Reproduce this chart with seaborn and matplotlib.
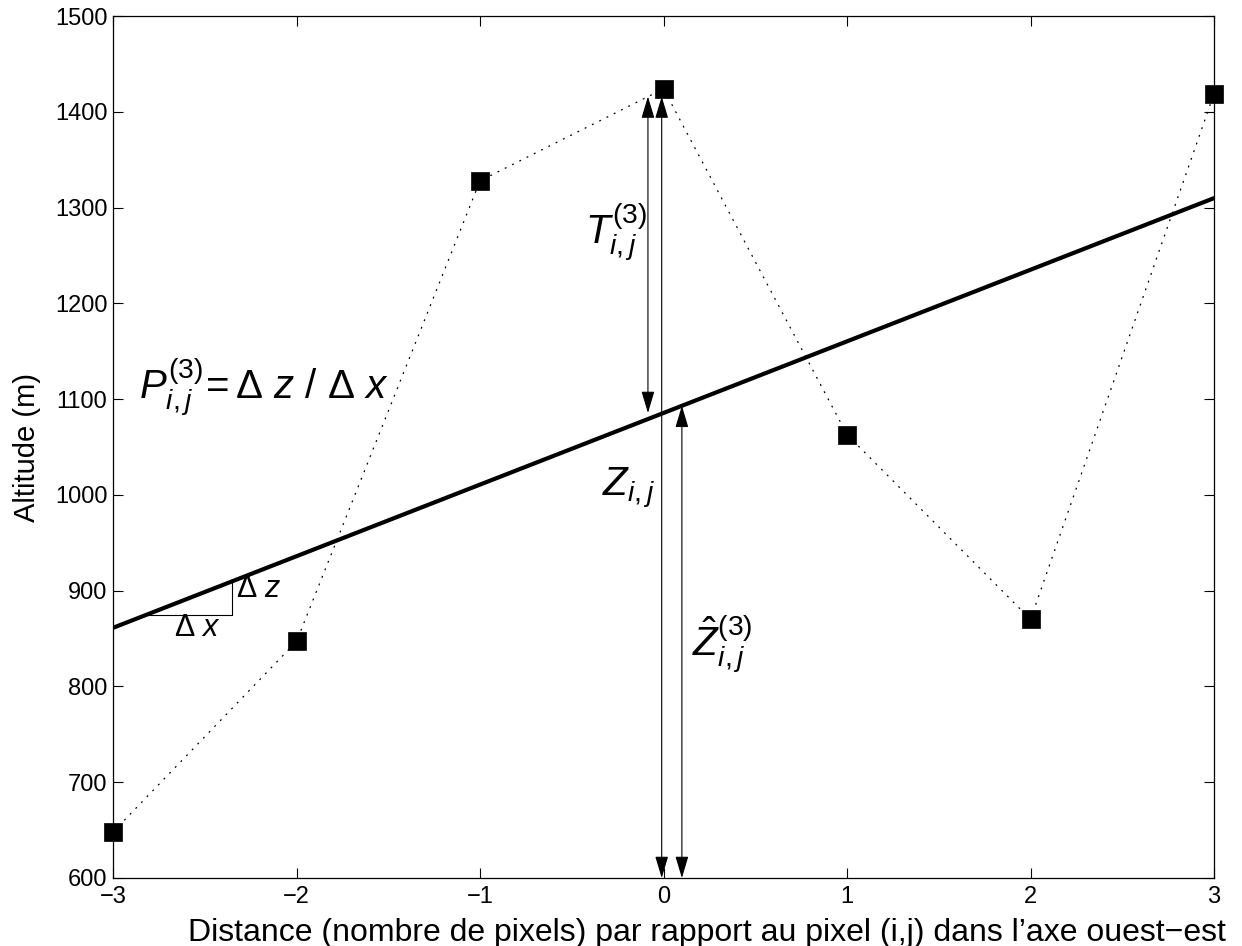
import numpy as np
import pandas as pd
import matplotlib
matplotlib.use("Agg")
import matplotlib.pyplot as plt
from matplotlib.patches import ArrowStyle
import seaborn as sns

# Altitude profile along the west-east axis around pixel (i,j)
distance = [-3, -2, -1, 0, 1, 2, 3]
altitude = [648, 847, 1328, 1424, 1063, 870, 1419]

x_ticks = [-3, -2, -1, 0, 1, 2, 3]
y_ticks = [600, 700, 800, 900, 1000, 1100, 1200, 1300, 1400, 1500]

profile = pd.DataFrame({"distance": distance, "altitude": altitude})

sns.set_style("ticks")
plt.rcParams["font.family"] = ["Liberation Sans", "DejaVu Sans"]
plt.rcParams["mathtext.fontset"] = "custom"
plt.rcParams["mathtext.rm"] = "Liberation Sans"
plt.rcParams["mathtext.it"] = "Liberation Sans:italic"
plt.rcParams["mathtext.bf"] = "Liberation Sans:bold"
plt.rcParams["axes.unicode_minus"] = True
for key in ["text.color", "axes.labelcolor", "xtick.color", "ytick.color",
            "xtick.labelcolor", "ytick.labelcolor"]:
    plt.rcParams[key] = "black"

fig = plt.figure(figsize=(12.42, 9.46), dpi=100)
ax = fig.add_axes([0.091, 0.0719, 0.8865, 0.9111])

# dotted profile and square markers
sns.lineplot(data=profile, x="distance", y="altitude", ax=ax, color="black",
             linewidth=0.9, linestyle=(0, (1.5, 5)), sort=False)
sns.scatterplot(data=profile, x="distance", y="altitude", ax=ax, marker="s",
                s=175, color="black", edgecolor="black", linewidth=0.5,
                clip_on=False, zorder=5)
# least-squares slope line
sns.regplot(data=profile, x="distance", y="altitude", ax=ax, scatter=False,
            ci=None, truncate=True, color="black", line_kws={"linewidth": 3})

slope, intercept = np.polyfit(distance, altitude, 1)
fit_at = lambda v: intercept + slope * v

ax.set_xlim(-3, 3)
ax.set_ylim(600, 1500)
ax.set_xticks(x_ticks)
ax.set_yticks(y_ticks)
ax.tick_params(direction="in", top=True, right=True, length=7, width=0.8,
               labelsize=17)
ax.tick_params(axis="x", pad=6)
ax.tick_params(axis="y", pad=4)
for sp in ax.spines.values():
    sp.set_linewidth(0.9)
    sp.set_color("black")

ax.set_xlabel("Distance (nombre de pixels) par rapport au pixel (i,j) dans l\u2019axe ouest\u2212est",
              fontsize=23)
ax.xaxis.set_label_coords(0.539, -0.046)
ax.set_ylabel("Altitude (m)", fontsize=21, labelpad=10)

# slope triangle
x_run_end = -2.35
y_base = 875
x_base_start = (y_base - intercept) / slope
ax.plot([x_base_start, x_run_end], [y_base, y_base], color="black", linewidth=0.8)
ax.plot([x_run_end, x_run_end], [y_base, fit_at(x_run_end)], color="black", linewidth=0.8)
ax.text(-2.33, 902, r"$\Delta\ z$", fontsize=22, va="center", ha="left")
ax.text(-2.67, 861, r"$\Delta\ x$", fontsize=22, va="center", ha="left")

# vertical double arrows
style = ArrowStyle("<|-|>", head_length=0.9, head_width=0.27)
def double_arrow(xv, y0, y1):
    ax.annotate("", xy=(xv, y1), xytext=(xv, y0),
                arrowprops=dict(arrowstyle=style, color="black", lw=0.8,
                                shrinkA=0, shrinkB=0, mutation_scale=15))

double_arrow(-0.085, fit_at(0), altitude[3] - 8)
double_arrow(-0.01, 600, altitude[3] - 8)
double_arrow(0.10, 600, fit_at(0.10))

# annotations
ax.text(-2.86, 1099, r"$P_{i,j}^{(3)}\!=\Delta\ z\ /\ \Delta\ x$", fontsize=29,
        ha="left", va="baseline")
ax.text(-0.43, 1261, r"$T_{i,j}^{(3)}$", fontsize=29, ha="left", va="baseline")
ax.text(-0.335, 999, r"$Z_{i,j}$", fontsize=29, ha="left", va="baseline")
ax.text(0.155, 831, r"$\hat{Z}_{i,j}^{(3)}$", fontsize=29, ha="left", va="baseline")

fig.savefig("out.png", dpi=100)
